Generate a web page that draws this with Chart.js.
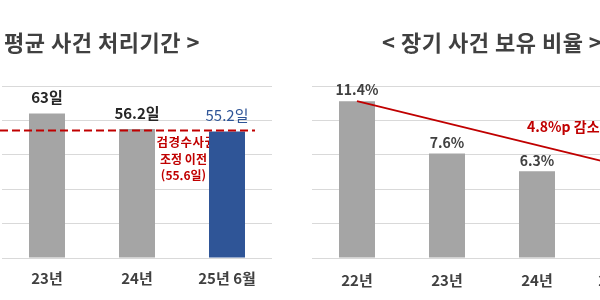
<!DOCTYPE html>
<html lang="ko">
<head>
<meta charset="utf-8">
<script src="https://cdn.jsdelivr.net/npm/chart.js@4"></script>
<style>
  html, body { margin: 0; padding: 0; width: 600px; height: 300px; overflow: hidden; background: #fff; }
  .box { position: absolute; top: 0; height: 300px; }
  #leftBox { left: 0; }
  #rightBox { left: 300px; }
</style>
</head>
<body>
<div class="box" id="leftBox"><canvas id="periodChart" width="284" height="300"></canvas></div>
<div class="box" id="rightBox"><canvas id="ratioChart" width="384" height="300"></canvas></div>
<script>
// 평균 사건 처리기간 (일)
const periodLabels = ['23년', '24년', '25년 6월'];
const periodDays = [63, 56.2, 55.2];
const periodTicks = [0, 15, 30, 45, 60, 75];
const beforeReform = 55.6;

// 장기 사건 보유 비율 (%)
const ratioLabels = ['22년', '23년', '24년', '25년 6월'];
const ratioValues = [11.4, 7.6, 6.3, 6.6];
const ratioTrend = [11.4, null, null, 6.6];
const ratioTicks = [0, 2.5, 5, 7.5, 10, 12.5];

const FONT = "'Noto Sans CJK KR', 'Noto Sans', sans-serif";
const GRAY = '#A5A5A5';
const BLUE = '#2F5597';
const RED = '#C00000';
const TEXT = '#404040';

function axes(ticks, pad) {
  return {
    x: {
      offset: true,
      grid: { display: false },
      border: { display: false },
      ticks: { color: TEXT, padding: pad, font: { family: FONT, size: 15, weight: 'bold' } },
      afterFit: (s) => { s.height = 42; }
    },
    y: {
      min: ticks[0],
      max: ticks[ticks.length - 1],
      ticks: { display: false, stepSize: ticks[1] - ticks[0] },
      grid: { color: '#D9D9D9', lineWidth: 1, drawTicks: false },
      border: { display: false },
      afterFit: (s) => { s.width = 0; }
    }
  };
}

function label(ctx, text, x, y, color, weight, size, align, spacing) {
  ctx.save();
  ctx.fillStyle = color;
  ctx.font = weight + ' ' + size + 'px ' + FONT;
  ctx.textAlign = align || 'center';
  ctx.textBaseline = 'middle';
  if (spacing) ctx.letterSpacing = spacing;
  ctx.fillText(text, x, y);
  ctx.restore();
}

const periodDecor = {
  id: 'periodDecor',
  beforeDatasetsDraw(chart) {
    const ctx = chart.ctx;
    const x = chart.scales.x, y = chart.scales.y;
    const cx = (x.getPixelForValue(1) + x.getPixelForValue(2)) / 2 + 1.5;
    const ly = y.getPixelForValue(beforeReform);
    ctx.save();
    ctx.fillStyle = '#fff';
    ctx.fillRect(cx - 30, ly + 3, 62, 50);
    ctx.restore();
    label(ctx, '검경수사권', cx + 3, ly + 12, RED, 'bold', 12.5, 'center', '0.5px');
    label(ctx, '조정 이전', cx, ly + 29, RED, 'bold', 12);
    label(ctx, '(' + beforeReform + '일)', cx, ly + 45, RED, 'bold', 12);
  },
  afterDatasetsDraw(chart) {
    const ctx = chart.ctx;
    const y = chart.scales.y;
    const bars = chart.getDatasetMeta(0).data;
    const ly = y.getPixelForValue(beforeReform);
    const last = bars[bars.length - 1];
    ctx.save();
    ctx.strokeStyle = RED;
    ctx.lineWidth = 2;
    ctx.setLineDash([8, 4]);
    ctx.beginPath();
    ctx.moveTo(0, ly);
    ctx.lineTo(last.x + last.width / 2 + 10, ly);
    ctx.stroke();
    ctx.restore();
    bars.forEach((b, i) => {
      const last = i === bars.length - 1;
      label(ctx, periodDays[i] + '일', b.x, b.y - 16, last ? BLUE : '#262626', last ? 'normal' : 'bold', 15);
    });
    label(ctx, '< 평균 사건 처리기간 >', 200, 43, TEXT, 'bold', 22, 'right', '0.5px');
  }
};

const ratioDecor = {
  id: 'ratioDecor',
  afterDatasetsDraw(chart) {
    const ctx = chart.ctx;
    const bars = chart.getDatasetMeta(1).data;
    bars.forEach((b, i) => {
      label(ctx, ratioValues[i] + '%', b.x, b.y - 11, TEXT, 'bold', 14);
    });
    const drop = (ratioValues[0] - ratioValues[3]).toFixed(1);
    label(ctx, drop + '%p 감소', 227, 127, RED, 'bold', 14, 'left');
    label(ctx, '< 장기 사건 보유 비율 >', 82, 43, TEXT, 'bold', 22, 'left', '0.5px');
  }
};

new Chart(document.getElementById('periodChart'), {
  type: 'bar',
  data: {
    labels: periodLabels,
    datasets: [{
      data: periodDays,
      backgroundColor: [GRAY, GRAY, BLUE],
      categoryPercentage: 1,
      barPercentage: 0.4
    }]
  },
  options: {
    responsive: false,
    animation: false,
    layout: { padding: { top: 86, left: 2, right: 12, bottom: 0 } },
    plugins: { legend: { display: false }, tooltip: { enabled: false } },
    scales: axes(periodTicks, 3)
  },
  plugins: [periodDecor]
});

new Chart(document.getElementById('ratioChart'), {
  type: 'bar',
  data: {
    labels: ratioLabels,
    datasets: [{
      type: 'line',
      data: ratioTrend,
      spanGaps: true,
      borderColor: RED,
      borderWidth: 1.8,
      pointRadius: 0,
      order: 0
    }, {
      data: ratioValues,
      backgroundColor: [GRAY, GRAY, GRAY, BLUE],
      categoryPercentage: 1,
      barPercentage: 0.4,
      order: 1
    }]
  },
  options: {
    responsive: false,
    animation: false,
    layout: { padding: { top: 86, left: 12, right: 12, bottom: 0 } },
    plugins: { legend: { display: false }, tooltip: { enabled: false } },
    scales: axes(ratioTicks, 5)
  },
  plugins: [ratioDecor]
});
</script>
</body>
</html>
